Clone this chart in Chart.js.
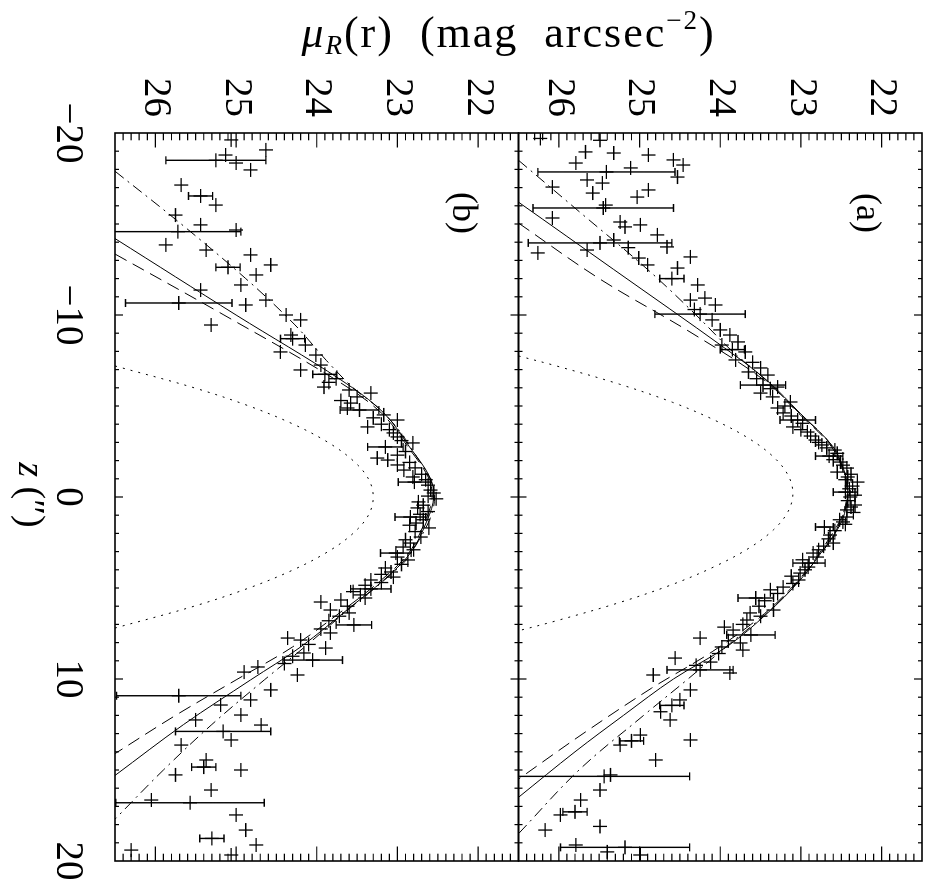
<!DOCTYPE html>
<html>
<head>
<meta charset="utf-8">
<script src="https://cdn.jsdelivr.net/npm/chart.js@4.4.1/dist/chart.umd.min.js"></script>
<style>
  html, body { margin: 0; padding: 0; background: #fff; overflow: hidden; }
  /* the figure is laid out in portrait and turned a quarter clockwise */
  #page {
    position: absolute; left: 0; top: 0; width: 888px; height: 931px;
    transform-origin: 0 0; transform: translate(931px, 0) rotate(90deg);
  }
  #fig { display: block; }
</style>
</head>
<body>
<div id="page"><canvas id="fig" width="888" height="931"></canvas></div>
<script>
  // [z (arcsec), mu_R (mag/arcsec^2), error (0 = none drawn)]
  const pointsA = [
    [-19.70, 26.23, 0], [-19.60, 25.49, 0], [-18.96, 25.67, 0], [-18.90, 25.32, 0], [-18.79, 24.89, 0],
    [-18.52, 24.58, 0], [-18.35, 25.79, 0], [-18.24, 24.46, 0], [-18.08, 25.11, 0], [-17.86, 25.41, 0.85],
    [-17.58, 24.53, 0], [-17.42, 25.65, 0], [-17.25, 25.46, 0], [-17.03, 26.08, 0], [-16.87, 24.89, 0],
    [-16.70, 25.58, 0], [-16.48, 25.03, 0], [-16.04, 25.42, 0], [-15.88, 25.45, 0.87], [-15.33, 26.08, 0],
    [-15.11, 25.24, 0], [-14.95, 24.99, 0], [-14.84, 25.18, 0], [-14.40, 24.78, 0], [-14.12, 25.32, 0],
    [-13.96, 25.49, 0.89], [-13.74, 24.66, 0], [-13.70, 25.14, 0], [-13.57, 25.65, 0], [-13.41, 26.26, 0],
    [-13.19, 24.37, 0], [-13.13, 25.01, 0], [-12.75, 24.90, 0], [-12.58, 24.53, 0], [-12.00, 24.60, 0.15],
    [-11.65, 24.28, 0], [-10.93, 24.19, 0], [-10.82, 24.37, 0], [-10.55, 24.06, 0], [-10.30, 24.32, 0],
    [-10.05, 24.25, 0.56], [-9.73, 24.10, 0], [-9.18, 24.00, 0], [-8.90, 23.88, 0], [-8.52, 23.78, 0],
    [-8.35, 23.98, 0], [-8.10, 23.85, 0.15], [-7.97, 23.69, 0], [-7.53, 23.81, 0], [-7.40, 23.60, 0],
    [-7.09, 23.50, 0], [-6.87, 23.65, 0], [-6.70, 23.41, 0], [-6.50, 23.55, 0], [-6.15, 23.47, 0.28],
    [-6.04, 23.29, 0], [-5.95, 23.38, 0], [-5.71, 23.50, 0], [-5.50, 23.35, 0], [-5.22, 23.13, 0],
    [-5.00, 23.20, 0], [-4.89, 23.29, 0], [-4.62, 23.22, 0], [-4.45, 23.12, 0], [-4.23, 23.04, 0.22],
    [-4.05, 22.98, 0], [-3.85, 23.10, 0], [-3.70, 23.00, 0], [-3.57, 22.92, 0], [-3.35, 22.88, 0],
    [-3.13, 22.82, 0], [-3.00, 22.78, 0], [-2.86, 22.74, 0], [-2.70, 22.68, 0], [-2.58, 22.58, 0],
    [-2.40, 22.55, 0], [-2.25, 22.65, 0.17], [-2.05, 22.60, 0], [-1.92, 22.51, 0], [-1.75, 22.48, 0],
    [-1.59, 22.43, 0], [-1.37, 22.55, 0], [-1.25, 22.38, 0], [-1.10, 22.42, 0], [-0.95, 22.45, 0],
    [-0.82, 22.30, 0], [-0.60, 22.36, 0], [-0.45, 22.40, 0], [-0.27, 22.45, 0.15], [-0.10, 22.33, 0],
    [0.00, 22.39, 0], [0.20, 22.42, 0], [0.44, 22.33, 0], [0.55, 22.38, 0], [0.71, 22.43, 0],
    [0.85, 22.35, 0], [1.10, 22.43, 0], [1.25, 22.52, 0], [1.37, 22.48, 0], [1.50, 22.45, 0],
    [1.65, 22.71, 0.11], [1.85, 22.58, 0], [2.09, 22.64, 0], [2.30, 22.66, 0], [2.53, 22.60, 0],
    [2.70, 22.72, 0], [2.90, 22.78, 0], [3.08, 22.85, 0], [3.30, 22.80, 0], [3.45, 22.98, 0],
    [3.63, 22.90, 0.20], [3.85, 22.91, 0], [4.00, 22.95, 0], [4.18, 23.01, 0], [4.35, 23.12, 0],
    [4.56, 23.03, 0], [4.75, 23.10, 0], [4.95, 23.22, 0], [5.10, 23.38, 0], [5.30, 23.29, 0],
    [5.55, 23.56, 0.22], [5.70, 23.45, 0], [6.00, 23.52, 0], [6.21, 23.34, 0], [6.37, 23.63, 0],
    [6.55, 23.50, 0], [6.76, 23.67, 0], [7.00, 23.72, 0], [7.15, 23.95, 0], [7.31, 23.84, 0],
    [7.58, 23.62, 0.30], [7.75, 24.25, 0], [7.90, 23.90, 0], [8.02, 23.75, 0], [8.24, 23.98, 0],
    [8.41, 23.72, 0], [8.60, 24.02, 0], [8.85, 24.56, 0], [9.07, 24.12, 0], [9.25, 24.30, 0],
    [9.50, 24.25, 0.41], [9.67, 23.88, 0], [9.78, 24.83, 0], [10.60, 24.37, 0], [11.15, 24.50, 0],
    [11.45, 24.60, 0.15], [11.80, 24.74, 0], [12.25, 24.62, 0], [13.08, 24.99, 0], [13.35, 24.37, 0],
    [13.40, 25.10, 0.15], [13.63, 25.24, 0], [14.45, 24.80, 0], [15.27, 25.36, 0], [15.35, 25.44, 1.06],
    [16.10, 25.49, 0], [16.65, 25.73, 0], [17.30, 25.80, 0.15], [17.47, 25.98, 0], [18.10, 25.49, 0],
    [18.30, 26.17, 0], [19.12, 25.79, 0], [19.25, 25.18, 0.80], [19.50, 25.40, 0], [19.67, 24.99, 0]
  ];
  const pointsB = [
    [-19.62, 25.06, 0], [-19.07, 24.63, 0], [-18.79, 25.13, 0], [-18.50, 25.25, 0.62], [-18.35, 25.00, 0],
    [-17.97, 24.82, 0], [-17.14, 25.68, 0], [-16.54, 25.44, 0.15], [-16.04, 25.25, 0], [-15.49, 25.75, 0],
    [-14.95, 25.44, 0], [-14.67, 25.00, 0], [-14.58, 25.72, 0.78], [-13.85, 25.87, 0], [-13.57, 25.37, 0],
    [-13.30, 24.82, 0], [-12.75, 24.57, 0], [-12.62, 25.10, 0.15], [-12.20, 24.75, 0], [-11.65, 24.94, 0],
    [-11.37, 25.44, 0], [-10.82, 24.63, 0], [-10.66, 25.71, 0.66], [-10.55, 24.88, 0], [-10.00, 24.38, 0],
    [-9.73, 24.20, 0], [-9.45, 25.31, 0], [-8.90, 24.32, 0], [-8.70, 24.30, 0.15], [-8.35, 24.14, 0],
    [-7.97, 24.45, 0], [-7.80, 24.01, 0], [-7.25, 23.95, 0], [-6.98, 24.20, 0], [-6.74, 23.90, 0.15],
    [-6.50, 23.76, 0], [-6.30, 23.85, 0], [-6.04, 23.91, 0], [-5.88, 23.60, 0], [-5.71, 23.33, 0],
    [-5.50, 23.50, 0], [-5.30, 23.70, 0], [-5.16, 23.58, 0], [-4.89, 23.62, 0], [-4.78, 23.47, 0.24],
    [-4.51, 23.17, 0], [-4.35, 23.30, 0], [-4.23, 23.00, 0], [-4.00, 23.20, 0], [-3.85, 23.37, 0],
    [-3.70, 23.10, 0], [-3.52, 23.05, 0], [-3.30, 23.00, 0], [-3.10, 22.95, 0], [-2.97, 22.81, 0],
    [-2.75, 23.15, 0.22], [-2.50, 22.90, 0], [-2.30, 23.00, 0], [-2.14, 23.25, 0], [-2.03, 23.12, 0],
    [-1.90, 22.85, 0], [-1.76, 23.00, 0], [-1.60, 22.78, 0], [-1.48, 22.92, 0], [-1.25, 22.70, 0],
    [-1.10, 22.81, 0], [-0.95, 22.65, 0], [-0.82, 22.79, 0.20], [-0.65, 22.62, 0], [-0.38, 22.59, 0],
    [-0.22, 22.55, 0], [-0.05, 22.62, 0], [0.10, 22.52, 0], [0.27, 22.74, 0], [0.45, 22.68, 0],
    [0.60, 22.75, 0], [0.80, 22.62, 0], [0.95, 22.72, 0], [1.10, 22.84, 0.19], [1.25, 22.68, 0],
    [1.43, 22.77, 0], [1.55, 22.85, 0], [1.70, 22.61, 0], [1.90, 22.78, 0], [2.20, 22.71, 0],
    [2.35, 22.90, 0], [2.53, 22.84, 0], [2.75, 22.93, 0], [2.90, 22.80, 0], [3.08, 23.02, 0.19],
    [3.30, 23.00, 0], [3.46, 22.87, 0], [3.70, 22.95, 0], [3.90, 23.15, 0], [4.12, 23.08, 0],
    [4.25, 23.20, 0], [4.40, 23.05, 0], [4.56, 23.33, 0], [4.70, 23.20, 0], [4.85, 23.40, 0],
    [5.05, 23.33, 0.25], [5.20, 23.55, 0], [5.38, 23.46, 0], [5.55, 23.40, 0], [5.66, 23.70, 0],
    [5.77, 23.95, 0], [6.00, 23.62, 0], [6.21, 23.83, 0], [6.37, 23.60, 0], [6.55, 23.72, 0],
    [6.80, 23.85, 0], [7.03, 23.54, 0.22], [7.25, 23.95, 0], [7.47, 23.83, 0], [7.75, 24.36, 0],
    [7.86, 24.20, 0], [8.10, 24.10, 0], [8.30, 23.89, 0], [8.57, 24.16, 0], [8.75, 24.30, 0],
    [8.96, 24.05, 0.37], [9.15, 24.40, 0], [9.34, 24.73, 0], [9.62, 24.90, 0], [9.78, 24.24, 0],
    [10.60, 24.57, 0], [10.92, 25.71, 0.77], [11.15, 24.82, 0], [11.43, 25.19, 0], [11.98, 24.94, 0],
    [12.25, 25.50, 0], [12.53, 24.69, 0], [12.88, 25.16, 0.59], [13.35, 25.06, 0], [13.63, 25.68, 0],
    [14.45, 25.37, 0], [14.84, 25.40, 0.15], [15.00, 24.94, 0], [15.27, 25.75, 0], [16.10, 25.31, 0],
    [16.65, 26.05, 0], [16.80, 25.57, 0.92], [17.47, 25.00, 0], [18.30, 24.88, 0], [18.76, 25.30, 0.15],
    [19.12, 24.75, 0], [19.40, 26.30, 0], [19.67, 25.06, 0]
  ];

  // model profiles, [z, mu]
  const solidA = [[-16.2, 26.5], [-12.5, 25.32], [-8.2, 23.95], [-6.4, 23.42], [-4.6, 23.01], [-2.75, 22.6],
    [-1.5, 22.47], [-0.5, 22.42], [0.9, 22.46], [1.8, 22.55], [2.75, 22.7], [4.56, 23.01], [6.4, 23.42],
    [8.2, 23.91], [10.0, 24.58], [12.0, 25.2], [14.0, 25.8], [16.5, 26.5]];
  const dashA = [[-15.05, 26.5], [-12.0, 25.5], [-9.0, 24.35], [-6.4, 23.45], [-4.6, 23.03], [-2.75, 22.62],
    [-1.0, 22.45], [0.5, 22.44], [2.75, 22.72], [4.56, 23.03], [6.4, 23.45], [8.5, 24.1], [10.5, 24.85],
    [13.0, 25.7], [15.5, 26.5]];
  const dashDotA = [[-18.5, 26.5], [-15.5, 25.7], [-12.5, 24.9], [-10.0, 24.3], [-8.0, 23.85], [-6.4, 23.43],
    [-4.6, 23.02], [-2.75, 22.61], [-0.5, 22.43], [1.8, 22.56], [4.56, 23.02], [6.4, 23.43], [8.2, 23.92],
    [10.0, 24.4], [12.0, 24.95], [15.0, 25.75], [18.5, 26.5]];
  const psfA = [[-7.75, 26.5], [-7.2, 26.03], [-6.2, 25.25], [-5.2, 24.59], [-4.2, 24.06], [-3.2, 23.64],
    [-2.2, 23.34], [-1.2, 23.16], [-0.2, 23.1], [0.8, 23.16], [1.8, 23.34], [2.8, 23.64], [3.8, 24.06],
    [4.8, 24.59], [5.8, 25.25], [6.8, 26.03], [7.35, 26.5]];

  const solidB = [[-14.2, 26.5], [-10.0, 25.0], [-6.43, 23.7], [-4.62, 23.17], [-2.75, 22.85], [-1.1, 22.6],
    [0.0, 22.55], [1.26, 22.63], [3.08, 22.84], [4.56, 23.17], [6.04, 23.58], [8.24, 24.2], [10.05, 24.82],
    [12.5, 25.65], [15.3, 26.5]];
  const dashB = [[-13.35, 26.5], [-10.0, 25.15], [-6.4, 23.75], [-4.62, 23.2], [-2.75, 22.87], [-1.1, 22.62],
    [0.0, 22.57], [1.26, 22.65], [3.08, 22.86], [4.56, 23.2], [6.04, 23.62], [8.24, 24.3], [10.05, 25.0],
    [12.0, 25.75], [14.1, 26.5]];
  const dashDotB = [[-17.9, 26.5], [-15.0, 25.68], [-12.0, 24.88], [-9.5, 24.28], [-7.5, 23.88], [-6.0, 23.55],
    [-4.62, 23.17], [-2.75, 22.84], [0.0, 22.54], [3.08, 22.83], [4.56, 23.16], [6.04, 23.57], [8.24, 24.15],
    [10.05, 24.65], [12.5, 25.3], [15.0, 25.9], [17.7, 26.5]];
  const psfB = [[-7.2, 26.5], [-6.0, 25.52], [-5.0, 24.84], [-4.0, 24.29], [-3.0, 23.86], [-2.0, 23.55],
    [-1.0, 23.36], [0.0, 23.3], [1.0, 23.36], [2.0, 23.55], [3.0, 23.86], [4.0, 24.29], [5.0, 24.84],
    [6.0, 25.52], [7.2, 26.5]];

  const zTicks = [-20, -10, 0, 10, 20];
  const muTicks = [22, 23, 24, 25, 26];
  const panelLabels = [['(a)', 'ya'], ['(b)', 'yb']];

  const FONT = 'Liberation Serif';
  const xy = (pairs) => pairs.map(([x, y]) => ({ x, y }));

  function curve(pairs, axis, dash) {
    return {
      data: xy(pairs), yAxisID: axis, showLine: true, pointRadius: 0,
      borderColor: '#000', borderWidth: 1, borderDash: dash, tension: 0.35, clip: 0
    };
  }
  function crosses(points, axis) {
    return {
      data: points.map(([x, y]) => ({ x, y })), yAxisID: axis,
      pointStyle: 'cross', pointRadius: 7, borderColor: '#000', borderWidth: 1.3,
      backgroundColor: '#000', showLine: false
    };
  }
  // keep the plot box exactly where the layout puts it
  function noScalePadding(s) {
    s.paddingTop = 0; s.paddingBottom = 0; s.paddingLeft = 0; s.paddingRight = 0;
  }

  // inward tick marks and the two panel frames
  const framePlugin = {
    id: 'frame',
    afterDatasetsDraw(chart) {
      const { ctx } = chart;
      const x = chart.scales.x;
      ctx.save();
      ctx.strokeStyle = '#000';
      for (const id of ['ya', 'yb']) {
        const y = chart.scales[id];
        ctx.lineWidth = 1.6;
        ctx.strokeRect(x.left, y.top, x.right - x.left, y.bottom - y.top);
        ctx.lineWidth = 1.2;
        ctx.beginPath();
        for (let z = -19; z <= 19; z++) {
          const px = x.getPixelForValue(z);
          const len = z % 10 === 0 ? 8 : 4;
          ctx.moveTo(px, y.top); ctx.lineTo(px, y.top + len);
          ctx.moveTo(px, y.bottom); ctx.lineTo(px, y.bottom - len);
        }
        for (let k = 216; k <= 264; k++) {
          const py = y.getPixelForValue(k / 10);
          const len = k % 10 === 0 ? 14.5 : 7.3;
          ctx.moveTo(x.left, py); ctx.lineTo(x.left + len, py);
          ctx.moveTo(x.right, py); ctx.lineTo(x.right - len, py);
        }
        ctx.stroke();
      }
      ctx.restore();
    }
  };

  const errorBarPlugin = {
    id: 'errorBars',
    afterDatasetsDraw(chart) {
      const { ctx } = chart;
      const x = chart.scales.x;
      ctx.save();
      ctx.strokeStyle = '#000';
      ctx.lineWidth = 1.4;
      for (const [pts, id] of [[pointsA, 'ya'], [pointsB, 'yb']]) {
        const y = chart.scales[id];
        ctx.beginPath();
        for (const [z, mu, err] of pts) {
          if (!err) continue;
          const px = x.getPixelForValue(z);
          const lo = mu - err, hi = mu + err;
          const p1 = y.getPixelForValue(Math.max(lo, y.min));
          const p2 = y.getPixelForValue(Math.min(hi, y.max));
          ctx.moveTo(px, p1); ctx.lineTo(px, p2);
          if (lo > y.min) { ctx.moveTo(px - 4, p1); ctx.lineTo(px + 4, p1); }
          if (hi < y.max) { ctx.moveTo(px - 4, p2); ctx.lineTo(px + 4, p2); }
        }
        ctx.stroke();
      }
      ctx.restore();
    }
  };

  const textPlugin = {
    id: 'texts',
    afterDraw(chart) {
      const { ctx } = chart;
      const x = chart.scales.x;
      ctx.save();
      ctx.fillStyle = '#000';

      // panel tags
      ctx.font = `36px ${FONT}`;
      ctx.textAlign = 'center';
      ctx.textBaseline = 'middle';
      for (const [tag, id] of panelLabels) {
        ctx.fillText(tag, x.getPixelForValue(-15.6), chart.scales[id].getPixelForValue(22.19));
      }

      // z axis title
      ctx.textBaseline = 'alphabetic';
      ctx.textAlign = 'left';
      const zPart = 'z', restPart = ' (\u2033)';
      ctx.font = `italic 38px ${FONT}`;
      const wz = ctx.measureText(zPart).width;
      ctx.font = `38px ${FONT}`;
      const wr = ctx.measureText(restPart).width;
      const cx = x.getPixelForValue(0) - 2;
      const sx = cx - (wz + wr) / 2;
      ctx.font = `italic 38px ${FONT}`;
      ctx.fillText(zPart, sx, 912);
      ctx.font = `38px ${FONT}`;
      ctx.fillText(restPart, sx + wz, 912);

      // mu axis title, running up the left side
      ctx.letterSpacing = '2px';
      const parts = [
        ['\u03bc', `italic 44px ${FONT}`, 0],
        ['R', `italic 27px ${FONT}`, 7],
        ['(r)  (mag  arcsec', `44px ${FONT}`, 0],
        ['\u22122', `27px ${FONT}`, -18],
        [')', `44px ${FONT}`, 0]
      ];
      let total = 0;
      for (const p of parts) { ctx.font = p[1]; total += ctx.measureText(p[0]).width; }
      const midY = (chart.scales.ya.bottom + chart.scales.yb.top) / 2 + 10;
      ctx.translate(47, midY + total / 2);
      ctx.rotate(-Math.PI / 2);
      let tx = 0;
      for (const [s, f, dy] of parts) {
        ctx.font = f;
        ctx.fillText(s, tx, dy);
        tx += ctx.measureText(s).width;
      }
      ctx.restore();
    }
  };

  const muAxis = () => ({
    type: 'linear', position: 'left', stack: 'mu', stackWeight: 1,
    min: 21.5, max: 26.5, reverse: true,
    grid: { display: false, drawTicks: false }, border: { display: false },
    afterBuildTicks: (s) => { s.ticks = muTicks.map((v) => ({ value: v })); },
    afterFit: (s) => { s.width = 133; noScalePadding(s); },
    ticks: { font: { family: FONT, size: 39 }, color: '#000', padding: 16 }
  });

  new Chart(document.getElementById('fig'), {
    type: 'scatter',
    data: {
      datasets: [
        crosses(pointsA, 'ya'), crosses(pointsB, 'yb'),
        curve(solidA, 'ya', []), curve(dashA, 'ya', [13, 7]), curve(dashDotA, 'ya', [11, 5, 2, 5]),
        curve(psfA, 'ya', [2, 6]),
        curve(solidB, 'yb', []), curve(dashB, 'yb', [13, 7]), curve(dashDotB, 'yb', [11, 5, 2, 5]),
        curve(psfB, 'yb', [2, 6])
      ]
    },
    options: {
      responsive: false, animation: false, events: [],
      layout: { padding: { left: 0, right: 27, top: 9, bottom: 0 } },
      plugins: { legend: { display: false }, tooltip: { enabled: false } },
      scales: {
        x: {
          type: 'linear', position: 'bottom', min: -20, max: 20,
          grid: { display: false, drawTicks: false }, border: { display: false },
          afterBuildTicks: (s) => { s.ticks = zTicks.map((v) => ({ value: v })); },
          afterFit: (s) => { s.height = 115; noScalePadding(s); },
          ticks: {
            font: { family: FONT, size: 39 }, color: '#000', padding: 24, maxRotation: 0,
            callback: (v) => (v < 0 ? '\u2212' + Math.abs(v) : String(v))
          }
        },
        yb: muAxis(),
        ya: muAxis()
      }
    },
    plugins: [framePlugin, errorBarPlugin, textPlugin]
  });
</script>
</body>
</html>
